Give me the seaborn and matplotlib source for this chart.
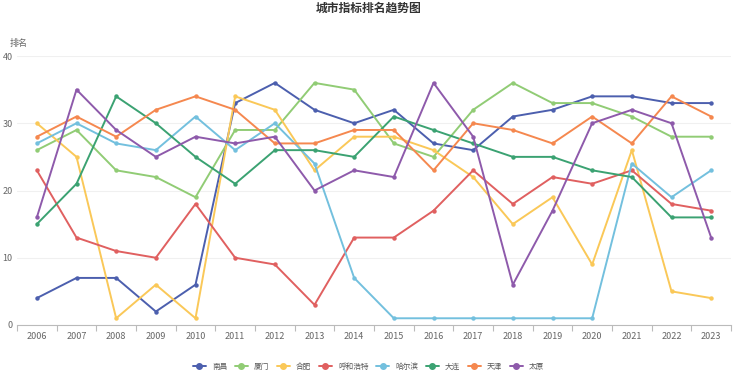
import matplotlib
matplotlib.use("Agg")
import matplotlib.pyplot as plt
import seaborn as sns
import pandas as pd
import numpy as np
from matplotlib.lines import Line2D

years = list(range(2006, 2024))
cities = ["南昌", "厦门", "合肥", "呼和浩特", "哈尔滨", "大连", "天津", "太原"]
nanchang = [4, 7, 7, 2, 6, 33, 36, 32, 30, 32, 27, 26, 31, 32, 34, 34, 33, 33]
xiamen = [26, 29, 23, 22, 19, 29, 29, 36, 35, 27, 25, 32, 36, 33, 33, 31, 28, 28]
hefei = [30, 25, 1, 6, 1, 34, 32, 23, 28, 28, 26, 22, 15, 19, 9, 26, 5, 4]
huhehaote = [23, 13, 11, 10, 18, 10, 9, 3, 13, 13, 17, 23, 18, 22, 21, 23, 18, 17]
haerbin = [27, 30, 27, 26, 31, 26, 30, 24, 7, 1, 1, 1, 1, 1, 1, 24, 19, 23]
dalian = [15, 21, 34, 30, 25, 21, 26, 26, 25, 31, 29, 27, 25, 25, 23, 22, 16, 16]
tianjin = [28, 31, 28, 32, 34, 32, 27, 27, 29, 29, 23, 30, 29, 27, 31, 27, 34, 31]
taiyuan = [16, 35, 29, 25, 28, 27, 28, 20, 23, 22, 36, 28, 6, 17, 30, 32, 30, 13]
colors = ["#4c5fae", "#91cc75", "#fac858", "#e06060", "#73c0de", "#3ba272", "#f5884f", "#8e5aab"]

series = [nanchang, xiamen, hefei, huhehaote, haerbin, dalian, tianjin, taiyuan]
df = pd.DataFrame({
    "year": years * len(cities),
    "rank": [v for s in series for v in s],
    "city": [c for c in cities for _ in years],
})

sns.set_theme(style="white")
plt.rcParams["font.family"] = ["Noto Sans CJK SC", "DejaVu Sans"]

fig = plt.figure(figsize=(7.37, 3.75), dpi=100)
ax = fig.add_axes([17 / 737, 50 / 375, (731 - 17) / 737, (325 - 56) / 375])

sns.lineplot(data=df, x="year", y="rank", hue="city", hue_order=cities,
             palette=colors, marker="o", markersize=3.2, markeredgewidth=0,
             linewidth=1.4, ax=ax, legend=False, sort=False)

ax.set_xlim(2005.5, 2023.5)
ax.set_ylim(0, 40)
ax.set_yticks([0, 10, 20, 30, 40])
ax.set_xticks(years)
ax.set_xticklabels([str(y) for y in years])
ax.set_xticks(np.arange(2005.5, 2024, 1), minor=True)
ax.tick_params(axis="x", which="major", length=0, labelsize=6.5, colors="#666666", pad=5)
ax.tick_params(axis="x", which="minor", length=4, color="#bbbbbb", width=0.8, direction="out", bottom=True)
ax.tick_params(axis="y", length=0, labelsize=6.5, colors="#666666", pad=3)
ax.grid(axis="y", color="#f0f0f0", linewidth=0.8)
ax.set_axisbelow(True)
for s in ["left", "right", "top"]:
    ax.spines[s].set_visible(False)
ax.spines["bottom"].set_color("#bbbbbb")
ax.spines["bottom"].set_linewidth(0.8)
ax.set_xlabel("")
ax.set_ylabel("")

fig.text(10 / 737, 1 - 43 / 375, "排名", fontsize=6.5, color="#666666", va="center", ha="left")
fig.text(0.5, 1 - 8 / 375, "城市指标排名趋势图", fontsize=8.5, fontweight="bold",
         color="#333333", ha="center", va="center")

handles = [Line2D([0], [0], color=c, marker="o", markersize=4, linewidth=1.4) for c in colors]
fig.legend(handles, cities, loc="center", bbox_to_anchor=(0.5, 1 - 367 / 375), ncol=8,
           frameon=False, fontsize=5.5, handlelength=1.7, handletextpad=0.8,
           columnspacing=1.0, labelcolor="#555555")

fig.savefig("out.png", dpi=100, facecolor="white")
